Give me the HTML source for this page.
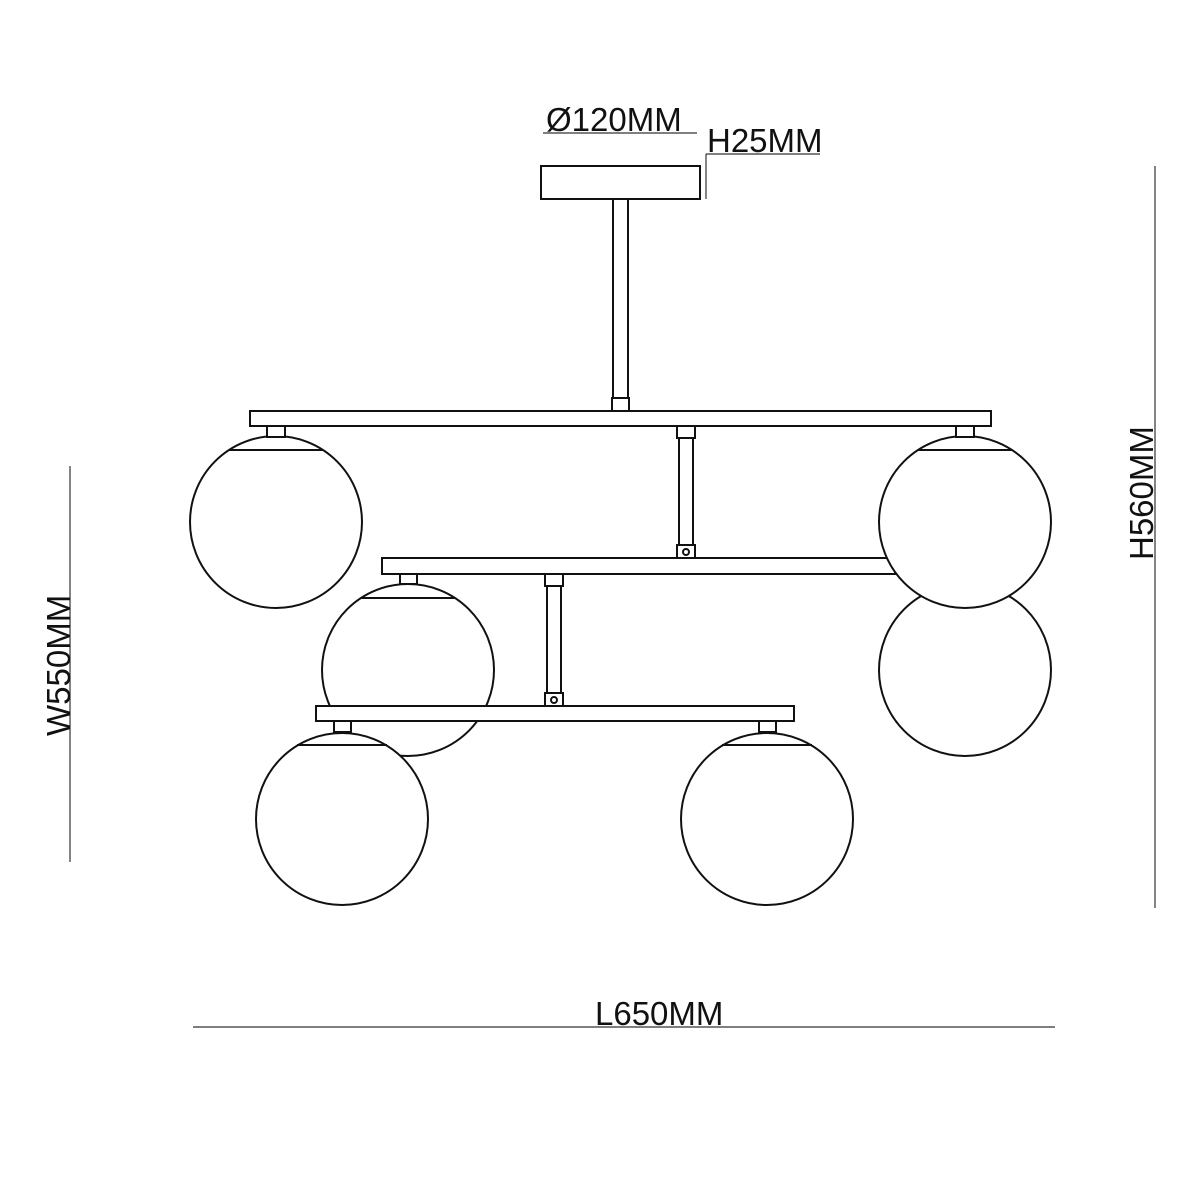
<!DOCTYPE html>
<html><head><meta charset="utf-8"><style>
html,body{margin:0;padding:0;background:#fff;}
svg{display:block;}
text{font-family:"Liberation Sans",Arial,sans-serif;font-size:33px;fill:#111;}
</style></head><body>
<svg width="1200" height="1200" viewBox="0 0 1200 1200" xmlns="http://www.w3.org/2000/svg">
<g fill="#fff" stroke="#111" stroke-width="2">
<rect x="541" y="166" width="159" height="33"/>
<rect x="613" y="199" width="15" height="200"/>
<rect x="612" y="398" width="17" height="13"/>
<circle cx="276" cy="522" r="86"/>
<line x1="229" y1="450" x2="323" y2="450"/>
<circle cx="965" cy="670" r="86"/>
<rect x="382" y="558" width="513" height="16"/>
<circle cx="965" cy="522" r="86"/>
<line x1="918" y1="450" x2="1012" y2="450"/>
<rect x="250" y="411" width="741" height="15"/>
<rect x="267" y="426" width="18" height="11"/>
<rect x="956" y="426" width="18" height="11"/>
<rect x="677" y="426" width="18" height="12"/>
<rect x="679" y="438" width="14" height="107"/>
<rect x="677" y="545" width="18" height="13"/>
<circle cx="686" cy="552" r="3"/>
<circle cx="408" cy="670" r="86"/>
<line x1="361" y1="598" x2="455" y2="598"/>
<rect x="400" y="574" width="17" height="10"/>
<rect x="545" y="574" width="18" height="12"/>
<rect x="547" y="586" width="14" height="107"/>
<rect x="545" y="693" width="18" height="13"/>
<circle cx="554" cy="700" r="3"/>
<rect x="316" y="706" width="478" height="15"/>
<circle cx="342" cy="819" r="86"/>
<line x1="297" y1="745" x2="387" y2="745"/>
<rect x="334" y="721" width="17" height="11"/>
<circle cx="767" cy="819" r="86"/>
<line x1="722" y1="745" x2="812" y2="745"/>
<rect x="759" y="721" width="17" height="11"/>
</g>
<g stroke="#333" stroke-width="1.2" fill="none">
<line x1="543" y1="133" x2="697" y2="133"/>
<line x1="706" y1="154" x2="820" y2="154"/>
<line x1="706" y1="154" x2="706" y2="199"/>
<line x1="70" y1="466" x2="70" y2="862"/>
<line x1="1155" y1="166" x2="1155" y2="908"/>
<line x1="193" y1="1027" x2="1055" y2="1027"/>
</g>
<text x="546" y="131">Ø120MM</text>
<text x="707" y="152">H25MM</text>
<text x="595" y="1025">L650MM</text>
<text transform="translate(70,736) rotate(-90)">W550MM</text>
<text transform="translate(1153,560) rotate(-90)">H560MM</text>
</svg>
</body></html>
